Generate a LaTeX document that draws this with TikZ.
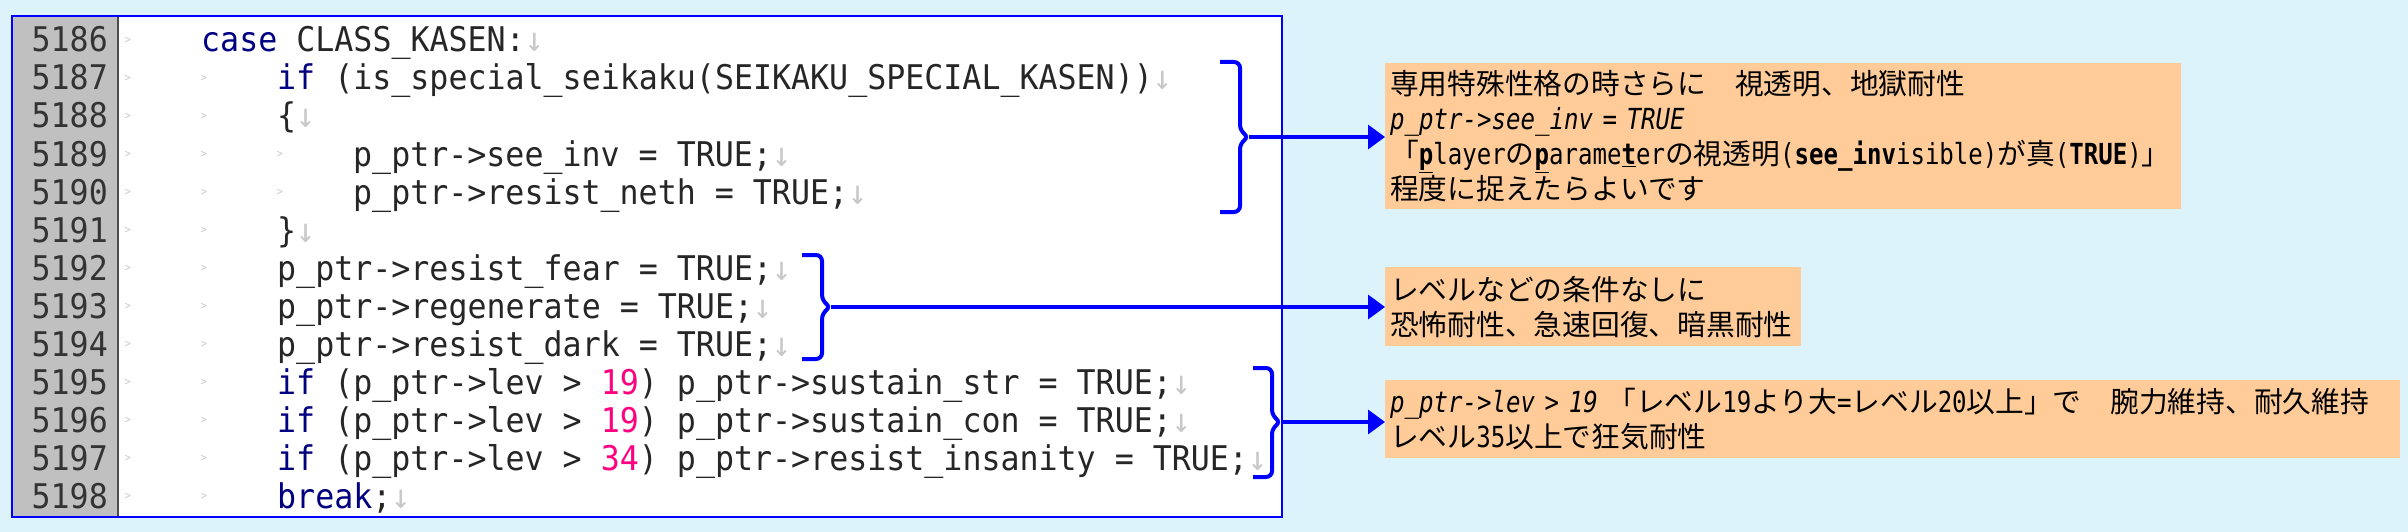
\documentclass[tikz,border=0pt]{standalone}
\usepackage{fontspec}
\usepackage{tikz}
\usetikzlibrary{arrows.meta}
\newfontfamily\codefont[FakeStretch=0.93,BoldFont={DejaVu Sans Mono Bold},ItalicFont={DejaVu Sans Mono Oblique}]{DejaVu Sans Mono}
\newfontfamily\latfont[FakeStretch=0.83,BoldFont={DejaVu Sans Mono Bold},ItalicFont={DejaVu Sans Mono Oblique}]{DejaVu Sans Mono}
\newfontfamily\jpfont{Noto Sans CJK JP}
\definecolor{bgcyan}{RGB}{220,243,252}
\definecolor{notefill}{RGB}{255,204,153}
\definecolor{codeblue}{RGB}{0,0,255}
\definecolor{kwblue}{RGB}{0,0,128}
\definecolor{numpink}{RGB}{255,0,128}
\definecolor{gutgray}{RGB}{192,192,192}
\definecolor{markgray}{RGB}{200,200,200}
\newcommand{\kw}[1]{\textcolor{kwblue}{#1}}
\newcommand{\nm}[1]{\textcolor{numpink}{#1}}
\newcommand{\eol}{\textcolor{markgray}{↓}}
\newcommand{\ulb}[1]{\underline{\textbf{#1}}}
\newcommand{\lat}[1]{{\latfont\fontsize{29}{35}\selectfont #1}}

\begin{document}
\begin{tikzpicture}[x=1pt,y=-1pt,
  src/.style={anchor=base west,inner sep=0pt,text=black!85,font=\codefont\fontsize{34}{38}\selectfont\frenchspacing},
  lnum/.style={anchor=base east,inner sep=0pt,text=black!80,font=\codefont\fontsize{34}{38}\selectfont},
  tabmk/.style={inner sep=0pt,text=markgray,font=\codefont\fontsize{11}{11}\selectfont},
  brace/.style={draw=codeblue,line width=4pt,rounded corners=6pt},
  link/.style={draw=codeblue,line width=3.5pt,-{Triangle[length=17pt,width=24pt]}},
  note/.style={fill=notefill,anchor=north west,inner xsep=5pt,inner ysep=0pt,align=left,font=\jpfont\fontsize{28.75}{35}\selectfont\frenchspacing}]
\fill[bgcyan] (0,0) rectangle (2408,532);
% editor panel
\draw[codeblue,line width=2.5pt,fill=white] (12,16) rectangle (1282,517);
\fill[gutgray] (13.25,17.25) rectangle (118,515.75);
\draw[black!70,line width=1.5pt] (118,17.25) -- (118,515.75);
\foreach \num/\tabs/\src [count=\i from 0] in {
  5186/1/{\kw{case} CLASS\_KASEN:},
  5187/2/{\kw{if} (is\_special\_seikaku(SEIKAKU\_SPECIAL\_KASEN))},
  5188/2/{\{},
  5189/3/{p\_ptr->see\_inv = TRUE;},
  5190/3/{p\_ptr->resist\_neth = TRUE;},
  5191/2/{\}},
  5192/2/{p\_ptr->resist\_fear = TRUE;},
  5193/2/{p\_ptr->regenerate = TRUE;},
  5194/2/{p\_ptr->resist\_dark = TRUE;},
  5195/2/{\kw{if} (p\_ptr->lev > \nm{19}) p\_ptr->sustain\_str = TRUE;},
  5196/2/{\kw{if} (p\_ptr->lev > \nm{19}) p\_ptr->sustain\_con = TRUE;},
  5197/2/{\kw{if} (p\_ptr->lev > \nm{34}) p\_ptr->resist\_insanity = TRUE;},
  5198/2/{\kw{break};}}{
  \node[lnum] (n\num) at (108,52+38*\i) {\num};
  \node[src] (c\num) at (125+76*\tabs,52+38*\i) {\src\eol};
  \foreach \k in {1,...,\tabs}
    \node[tabmk] at (128+76*\k-76,40+38*\i) {>};
}
% brackets
\draw[brace] (1220,62) -- (1240,62) -- (1240,131) -- (1249,137) -- (1240,143) -- (1240,212) -- (1220,212);
\coordinate (tip1) at (1249,137);
\draw[brace] (802,255) -- (822,255) -- (822,301) -- (831,307) -- (822,313) -- (822,359) -- (802,359);
\coordinate (tip2) at (831,307);
\draw[brace] (1253,368) -- (1272,368) -- (1272,416) -- (1281,422) -- (1272,428) -- (1272,477) -- (1253,477);
\coordinate (tip3) at (1281,422);
% notes
\node[note,text width=786pt,minimum height=146pt] (note1) at (1385,63)
  {専用特殊性格の時さらに　視透明、地獄耐性\\
   \lat{\itshape p\_ptr->see\_inv = TRUE}\\
   「\lat{\ulb{p}layer}の\lat{\ulb{p}arame\ulb{t}er}の視透明\lat{(\textbf{see\_inv}isible)}が真\lat{(\textbf{TRUE})}」\\
   程度に捉えたらよいです};
\node[note,text width=406pt,minimum height=79pt] (note2) at (1385,267)
  {レベルなどの条件なしに\\恐怖耐性、急速回復、暗黒耐性};
\node[note,text width=1005pt,minimum height=78pt] (note3) at (1385,380)
  {\lat{\itshape p\_ptr->lev > 19 }「レベル\lat{19}より大\lat{=}レベル\lat{20}以上」で　腕力維持、耐久維持\\
   レベル\lat{35}以上で狂気耐性};
\draw[link] (tip1) -- (tip1 -| note1.west);
\draw[link] (tip2) -- (tip2 -| note2.west);
\draw[link] (tip3) -- (tip3 -| note3.west);
\end{tikzpicture}
\end{document}
